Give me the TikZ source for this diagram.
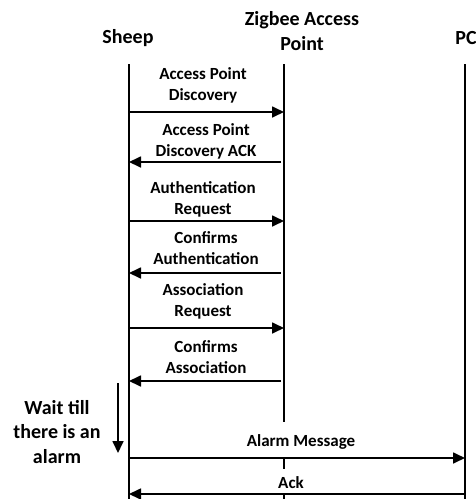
\documentclass[tikz,border=0pt]{standalone}
\usepackage{fontspec}
\setmainfont{Carlito}
\usetikzlibrary{arrows.meta}
\begin{document}
\begin{tikzpicture}[x=1pt,y=-1pt,
  msg/.style={font=\fontsize{17}{21}\selectfont\bfseries, align=center, inner sep=0pt},
  big/.style={font=\fontsize{20}{24.5}\selectfont\bfseries, align=center, inner sep=0pt},
  life/.style={line width=1.7pt},
  arr/.style={line width=1.7pt, -{Triangle[length=12pt,width=11pt]}}]
\useasboundingbox (0,0) rectangle (476,499);
% headers
\node[big] (sheep) at (128,38) {Sheep};
\node[big] (ap) at (302,31) {Zigbee Access\\Point};
\node[big] (pc) at (466,38) {PC};
% lifeline coordinates
\coordinate (s0) at (129,64);  \coordinate (s1) at (129,499);
\coordinate (p0) at (465,64);  \coordinate (p1) at (465,499);
\coordinate (a0) at (284,64);  \coordinate (a1) at (284,422);
\coordinate (a2) at (284,458); \coordinate (a3) at (284,469);
\coordinate (a4) at (284,495); \coordinate (a5) at (284,499);
\draw[life] (s0) -- (s1);
\draw[life] (p0) -- (p1);
\draw[life] (a0) -- (a1);
\draw[life] (a2) -- (a3);
\draw[life] (a4) -- (a5);
% message end points
\coordinate (m1s) at (129,112); \coordinate (m1a) at (284,112);
\coordinate (m2a) at (281,162); \coordinate (m2s) at (129,162);
\coordinate (m3s) at (129,221); \coordinate (m3a) at (284,221);
\coordinate (m4a) at (281,273); \coordinate (m4s) at (129,273);
\coordinate (m5s) at (129,328); \coordinate (m5a) at (284,328);
\coordinate (m6a) at (281,381); \coordinate (m6s) at (129,381);
\coordinate (m7s) at (129,458); \coordinate (m7p) at (465,458);
\coordinate (m8p) at (465,494); \coordinate (m8s) at (129,494);
\coordinate (w0) at (118,383);  \coordinate (w1) at (118,453);
% messages
\draw[arr] (m1s) -- (m1a);
\draw[arr] (m2a) -- (m2s);
\draw[arr] (m3s) -- (m3a);
\draw[arr] (m4a) -- (m4s);
\draw[arr] (m5s) -- (m5a);
\draw[arr] (m6a) -- (m6s);
\draw[arr] (m7s) -- (m7p);
\draw[arr] (m8p) -- (m8s);
\draw[arr] (w0) -- (w1);
% labels
\node[msg] (l1) at (203,85) {Access Point\\Discovery};
\node[msg] (l2) at (206,141) {Access Point\\Discovery ACK};
\node[msg] (l3) at (203,199) {Authentication\\Request};
\node[msg] (l4) at (206,248) {Confirms\\Authentication};
\node[msg] (l5) at (203,301) {Association\\Request};
\node[msg] (l6) at (206,357) {Confirms\\Association};
\node[msg] (l7) at (301,442) {Alarm Message};
\node[msg] (l8) at (291,483) {Ack};
\node[big] (wait) at (57,432) {Wait till\\there is an\\alarm};
\end{tikzpicture}
\end{document}
